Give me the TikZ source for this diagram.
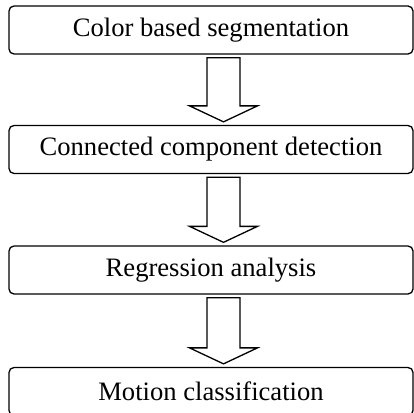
\documentclass[tikz,border=0pt]{standalone}
\usepackage{fontspec}
\setmainfont{Liberation Serif}
\usetikzlibrary{calc}
\begin{document}
\begin{tikzpicture}[x=1pt,y=1pt,
  stagebox/.style={draw, line width=1.3pt, rounded corners=5pt,
    minimum width=404pt, minimum height=48pt, inner sep=0pt,
    font=\fontsize{26.6}{30}\selectfont},
  arrowline/.style={draw, line width=1.3pt, fill=white, line join=miter}]
\clip (0,0) rectangle (414,-412);
\fill[white] (0,0) rectangle (414,-412);
% processing stages
\node[stagebox] (seg) at (211,-30) {Color based segmentation};
\node[stagebox] (ccd) at (211,-149.5) {Connected component detection};
\node[stagebox] (reg) at (211,-270) {Regression analysis};
\node[stagebox] (mot) at (211,-391.5) {Motion classification};
% hollow block arrows between stages
\newcommand{\stagearrow}[2]{%
  \draw[arrowline] let \p1=($(#1.south)+(12.5pt,-3pt)$), \p2=($(#2.north)+(12.5pt,3pt)$) in
    (\x1-16.5pt,\y1) -- (\x1+16.5pt,\y1) -- (\x1+16.5pt,\y2+16pt) -- (\x1+34pt,\y2+16pt)
    -- (\x1,\y2) -- (\x1-34pt,\y2+16pt) -- (\x1-16.5pt,\y2+16pt) -- cycle;}
\stagearrow{seg}{ccd}
\stagearrow{ccd}{reg}
\stagearrow{reg}{mot}
\end{tikzpicture}
\end{document}
